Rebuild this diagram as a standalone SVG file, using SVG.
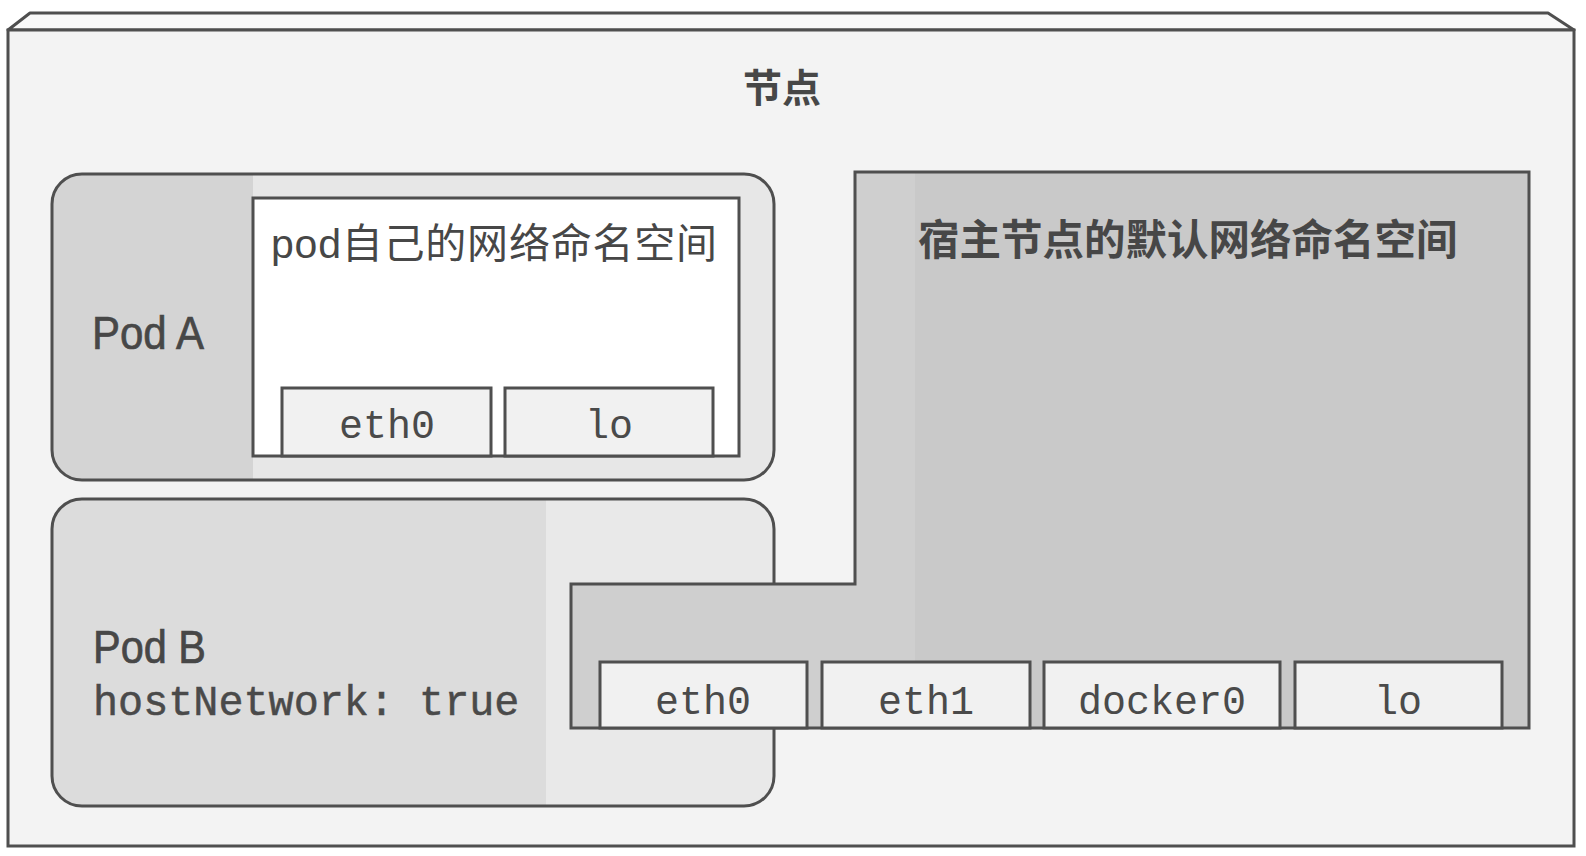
<svg xmlns="http://www.w3.org/2000/svg" width="1586" height="856" viewBox="0 0 1586 856">
  <defs>
    <style>
      .edge { stroke: #4f4f4f; stroke-width: 3; }
      .cjk { font-family: "Liberation Sans", "Noto Sans CJK SC", sans-serif; fill: #474747; }
      .label { font-family: "Liberation Sans", "Noto Sans CJK SC", sans-serif; fill: #474747; stroke: #474747; stroke-width: 0.7; font-size: 46px; }
      .mono { font-family: "Liberation Mono", "DejaVu Sans Mono", monospace; fill: #4a4a4a; font-size: 40px; text-anchor: middle; }
      .iface { fill: #f1f1f1; stroke: #4f4f4f; stroke-width: 3; }
    </style>
    <!-- two-tone fills of the pod outlines -->
    <linearGradient id="podAFill" x1="0" y1="0" x2="1" y2="0">
      <stop offset="0" stop-color="#d4d4d4"/>
      <stop offset="0.278" stop-color="#d4d4d4"/>
      <stop offset="0.278" stop-color="#e7e7e7"/>
      <stop offset="1" stop-color="#e7e7e7"/>
    </linearGradient>
    <linearGradient id="podBFill" x1="0" y1="0" x2="1" y2="0">
      <stop offset="0" stop-color="#dcdcdc"/>
      <stop offset="0.684" stop-color="#dcdcdc"/>
      <stop offset="0.684" stop-color="#e9e9e9"/>
      <stop offset="1" stop-color="#e9e9e9"/>
    </linearGradient>
  </defs>

  <rect x="0" y="0" width="1586" height="856" fill="#ffffff"/>

  <!-- node: bevelled outer box -->
  <g id="node">
    <path d="M8,30 L30,13 L1548,13 L1574,30 Z" fill="#f9f9f9" class="edge" stroke-linejoin="round"/>
    <rect x="8" y="30" width="1566" height="816" fill="#f3f3f3" class="edge"/>
    <text x="782" y="102" class="cjk" font-size="39" font-weight="bold" fill="#555555" text-anchor="middle">节点</text>
  </g>

  <!-- Pod A with its own network namespace -->
  <g id="podA">
    <rect x="52" y="174" width="722" height="306" rx="30" ry="30" fill="url(#podAFill)" class="edge"/>
    <text x="92" y="349" class="label" textLength="112" lengthAdjust="spacingAndGlyphs">Pod A</text>
    <g id="podA-netns">
      <rect x="253" y="198" width="486" height="258" fill="#ffffff" class="edge"/>
      <text x="271" y="258" class="cjk" font-size="41" textLength="446" lengthAdjust="spacing">pod自己的网络命名空间</text>
    </g>
    <g id="podA-eth0">
      <rect x="282" y="388" width="209" height="68" class="iface"/>
      <text x="387" y="438" class="mono">eth0</text>
    </g>
    <g id="podA-lo">
      <rect x="505" y="388" width="208" height="68" class="iface"/>
      <text x="609" y="438" class="mono">lo</text>
    </g>
  </g>

  <!-- Pod B running in the host network -->
  <g id="podB">
    <rect x="52" y="499" width="722" height="307" rx="30" ry="30" fill="url(#podBFill)" class="edge"/>
    <text x="93" y="663" class="label" textLength="113" lengthAdjust="spacingAndGlyphs">Pod B</text>
    <text x="93" y="715" font-family="Liberation Mono, DejaVu Sans Mono, monospace" font-size="41.8" fill="#4a4a4a" stroke="#4a4a4a" stroke-width="0.5">hostNetwork: true</text>
  </g>

  <!-- default network namespace of the host -->
  <g id="hostNetns">
    <path d="M855,172 L1529,172 L1529,728 L571,728 L571,584 L855,584 Z" fill="#c9c9c9"/>
    <path d="M855,172 L915,172 L915,584 L571,584 L571,728 L915,728 L915,584 L855,584 Z" fill="#cfcfcf"/>
    <path d="M855,172 L1529,172 L1529,728 L571,728 L571,584 L855,584 Z" fill="none" class="edge"/>
    <text x="918" y="255" class="cjk" font-size="41.5" font-weight="bold" fill="#555555">宿主节点的默认网络命名空间</text>
  </g>

  <g id="host-eth0">
    <rect x="600" y="662" width="207" height="66" class="iface"/>
    <text x="703" y="714" class="mono">eth0</text>
  </g>
  <g id="host-eth1">
    <rect x="822" y="662" width="208" height="66" class="iface"/>
    <text x="926" y="714" class="mono">eth1</text>
  </g>
  <g id="host-docker0">
    <rect x="1044" y="662" width="236" height="66" class="iface"/>
    <text x="1162" y="714" class="mono">docker0</text>
  </g>
  <g id="host-lo">
    <rect x="1295" y="662" width="207" height="66" class="iface"/>
    <text x="1398" y="714" class="mono">lo</text>
  </g>

  <!-- no connectors in this drawing -->
  <g id="connectors"/>
</svg>
